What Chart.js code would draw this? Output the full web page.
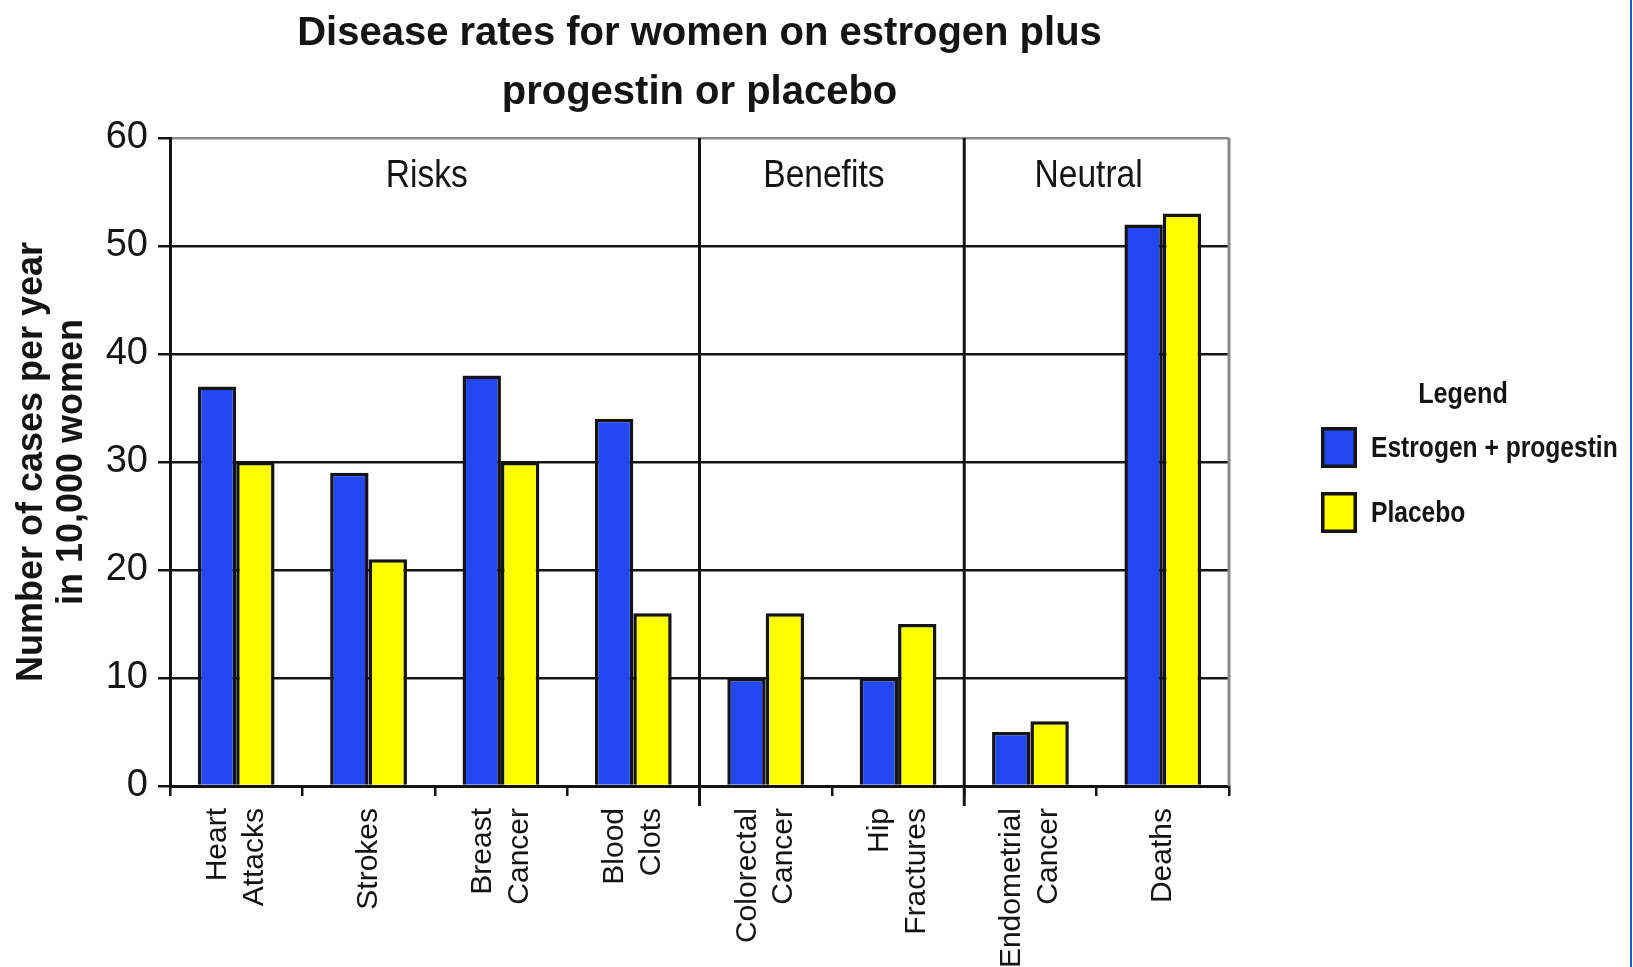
<!DOCTYPE html>
<html>
<head>
<meta charset="utf-8">
<script src="https://cdn.jsdelivr.net/npm/chart.js@4/dist/chart.umd.min.js"></script>
<style>
html,body{margin:0;padding:0;background:#fff;}
#wrap{width:1633px;height:967px;position:relative;overflow:hidden;}
canvas{display:block;}
</style>
</head>
<body>
<div id="wrap"><canvas id="c" width="1633" height="967"></canvas></div>
<script>
// ---- data ----
const categories = [["Heart","Attacks"],["Strokes"],["Breast","Cancer"],["Blood","Clots"],["Colorectal","Cancer"],["Hip","Fractures"],["Endometrial","Cancer"],["Deaths"]];
const seriesNames = ["Estrogen + progestin","Placebo"];
const estrogenProgestin = [37,29,38,34,10,10,5,52];
const placebo = [30,21,30,16,16,15,6,53];
const yTicks = [0,10,20,30,40,50,60];
const groupNames = ["Risks","Benefits","Neutral"];
const groupStart = [0,4,6];
const groupEnd = [3,5,7];
const titleLines = ["Disease rates for women on estrogen plus","progestin or placebo"];
const yTitle = ["Number of cases per year","in 10,000 women"];
const legendTitle = "Legend";

// ---- styles ----
const BLUE = '#2447f4';
const YELLOW = '#ffff00';
const INK = '#141414';
const GRAY = '#8a8a8a';
const SANS = "'Liberation Sans', Arial, sans-serif";

// draw text horizontally condensed (narrow face look-alike)
function narrowText(ctx, s, x, y, sx, align) {
  ctx.save();
  ctx.translate(x, y);
  ctx.scale(sx, 1);
  ctx.textAlign = align;
  ctx.fillText(s, 0, 0);
  ctx.restore();
}

const decor = {
  id: 'decor',
  beforeDraw(chart) {
    const xs = chart.scales.x;
    if (xs && typeof xs.getLabelItems === 'function') {
      const items = xs.getLabelItems(chart.chartArea);
      items.forEach(it => {
        const n = Array.isArray(it.label) ? it.label.length : 1;
        if (n > 1 && !it._shifted && it.options && it.options.translation) {
          it.options.translation[0] -= (n - 1) * it.font.lineHeight / 2;
          it._shifted = true;
        }
      });
    }
  },
  beforeDatasetsDraw(chart) {
    const {ctx, chartArea: a} = chart;
    const xs = chart.scales.x;
    ctx.save();
    ctx.strokeStyle = GRAY; ctx.lineWidth = 3;
    ctx.beginPath(); ctx.moveTo(a.right, a.top); ctx.lineTo(a.right, a.bottom); ctx.stroke();
    ctx.strokeStyle = INK; ctx.lineWidth = 3;
    for (let g = 0; g < groupNames.length - 1; g++) {
      const x = (xs.getPixelForValue(groupEnd[g]) + xs.getPixelForValue(groupStart[g + 1])) / 2;
      ctx.beginPath(); ctx.moveTo(x, a.top); ctx.lineTo(x, a.bottom + 20); ctx.stroke();
    }
    ctx.restore();
  },
  afterDraw(chart) {
    const {ctx, chartArea: a} = chart;
    const xs = chart.scales.x;
    ctx.save();
    ctx.fillStyle = INK;
    // title
    ctx.font = "bold 40px " + SANS;
    ctx.textAlign = 'center'; ctx.textBaseline = 'alphabetic';
    const cx = (a.left + a.right) / 2;
    ctx.fillText(titleLines[0], cx, 45);
    ctx.fillText(titleLines[1], cx, 104);
    // group labels
    ctx.font = "39px " + SANS;
    for (let g = 0; g < groupNames.length; g++) {
      const gx = (xs.getPixelForValue(groupStart[g]) + xs.getPixelForValue(groupEnd[g])) / 2;
      narrowText(ctx, groupNames[g], gx - 8, a.top + 49, 0.86, 'center');
    }
    // legend
    const lx = a.right + 92;
    ctx.font = "bold 30px " + SANS;
    ctx.textBaseline = 'middle';
    narrowText(ctx, legendTitle, a.right + 234, 395, 0.84, 'center');
    chart.data.datasets.forEach((ds, i) => {
      const top = 427 + i * 65;
      ctx.fillStyle = ds.backgroundColor;
      ctx.fillRect(lx, top, 36, 41);
      ctx.strokeStyle = INK; ctx.lineWidth = 3.5;
      ctx.strokeRect(lx + 1.75, top + 1.75, 32.5, 37.5);
      ctx.fillStyle = INK;
      narrowText(ctx, ds.label, lx + 50, top + 22, 0.82, 'left');
    });
    // outer slide edge
    ctx.strokeStyle = '#1a5fd6'; ctx.lineWidth = 2;
    ctx.beginPath(); ctx.moveTo(1631, 0); ctx.lineTo(1631, 967); ctx.stroke();
    ctx.restore();
  }
};

const chart = new Chart(document.getElementById('c'), {
  type: 'bar',
  data: {
    labels: categories,
    datasets: [
      {label: seriesNames[0], data: estrogenProgestin, backgroundColor: BLUE, borderColor: INK, borderWidth: 3.5,
       categoryPercentage: 0.58, barPercentage: 1.0},
      {label: seriesNames[1], data: placebo, backgroundColor: YELLOW, borderColor: INK, borderWidth: 3.5,
       categoryPercentage: 0.58, barPercentage: 1.0}
    ]
  },
  options: {
    responsive: false,
    animation: false,
    events: [],
    devicePixelRatio: 1,
    layout: {padding: {left: 12, right: 404, top: 138, bottom: 0}},
    plugins: {legend: {display: false}, title: {display: false}, tooltip: {enabled: false}},
    scales: {
      x: {
        offset: true,
        grid: {offset: true, drawOnChartArea: false, drawTicks: true, tickLength: 10, color: INK, lineWidth: 2.5},
        border: {display: true, color: INK, width: 3},
        ticks: {autoSkip: false, minRotation: 90, maxRotation: 90, padding: 12, color: INK,
                font: {family: SANS, size: 30, lineHeight: 1.22}},
        afterFit: s => { s.height = 181; }
      },
      y: {
        min: 0, max: 60,
        afterBuildTicks: s => { s.ticks = yTicks.map(v => ({value: v})); },
        ticks: {padding: 10, color: INK, font: {family: SANS, size: 38}},
        grid: {color: c => (c.tick && c.tick.value === 60) ? GRAY : INK, lineWidth: 2.5, tickLength: 12, tickColor: INK},
        border: {color: INK, width: 3},
        title: {display: true, text: yTitle, color: INK, padding: 0,
                font: {family: SANS, size: 36, weight: 'bold', lineHeight: 1.11}},
        afterFit: s => { s.width = 158; }
      }
    }
  },
  plugins: [decor]
});
</script>
</body>
</html>
